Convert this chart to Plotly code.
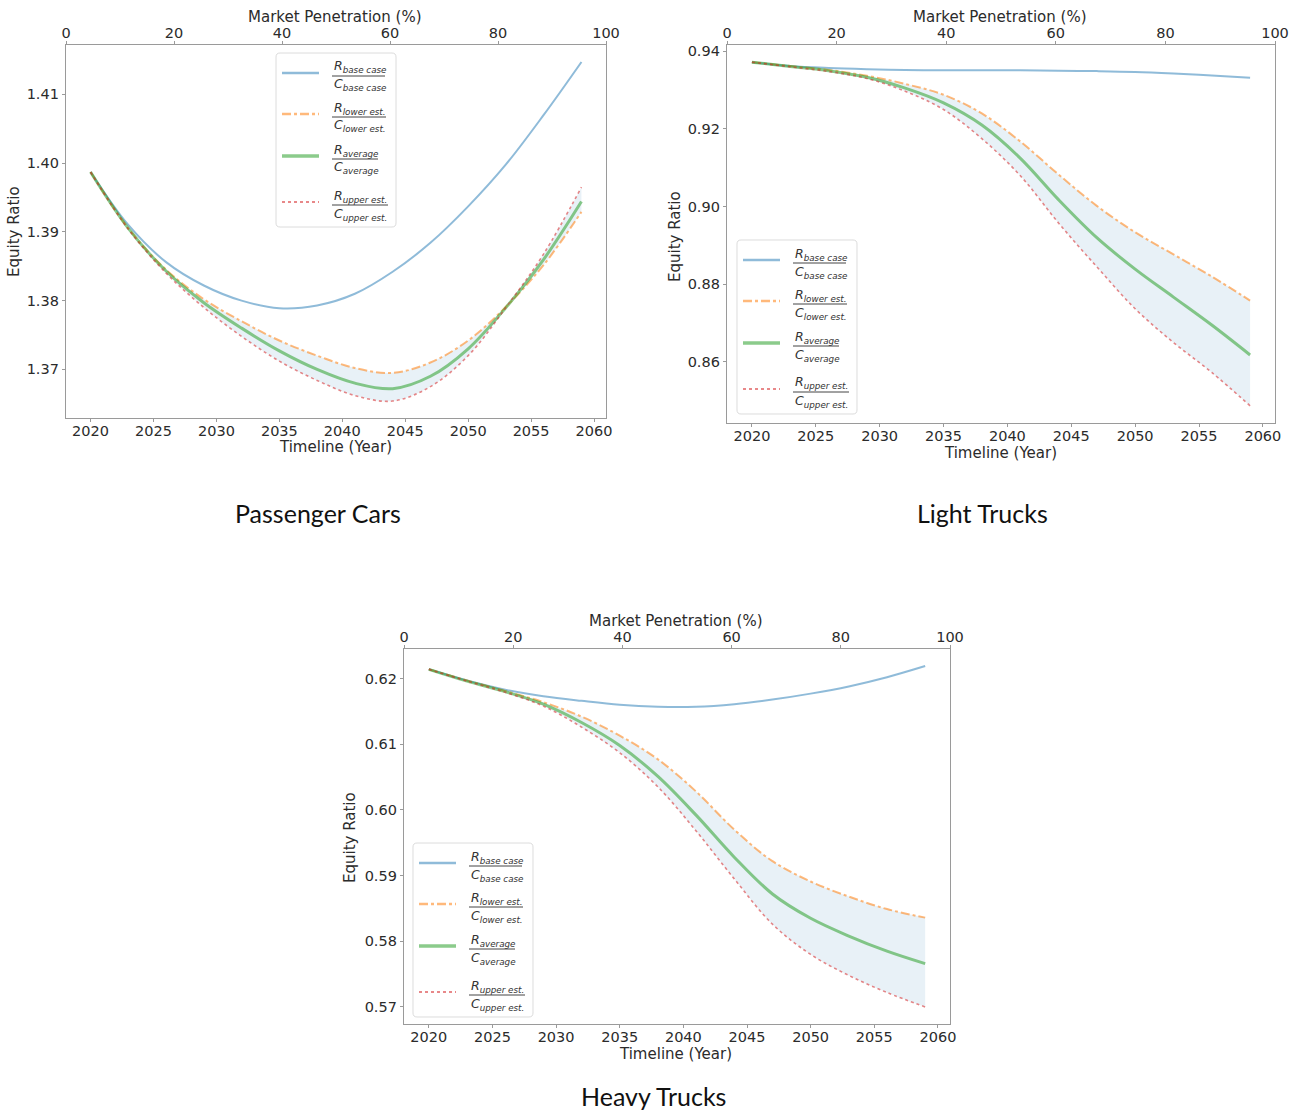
import plotly.graph_objects as go

# ---------------- data ----------------
years = [2020, 2023, 2026, 2029, 2032, 2035, 2038, 2041, 2044, 2047, 2050, 2053, 2056, 2059]
penetration_range = [0, 100]
penetration_ticks = [0, 20, 40, 60, 80, 100]

pc_base = [1.3987, 1.3910, 1.3856, 1.3822, 1.3800, 1.3789, 1.3793, 1.3810, 1.3842, 1.3884, 1.3937, 1.3998, 1.4070, 1.4147]
pc_lower = [1.3987, 1.3905, 1.3845, 1.3802, 1.3770, 1.3742, 1.3720, 1.3702, 1.3695, 1.3710, 1.3742, 1.3791, 1.3852, 1.3929]
pc_avg = [1.3987, 1.3905, 1.3843, 1.3797, 1.3760, 1.3727, 1.3700, 1.3680, 1.3672, 1.3690, 1.3730, 1.3790, 1.3860, 1.3944]
pc_upper = [1.3987, 1.3904, 1.3840, 1.3790, 1.3748, 1.3712, 1.3684, 1.3662, 1.3654, 1.3675, 1.3720, 1.3790, 1.3868, 1.3965]

lt_base = [0.9372, 0.9362, 0.9357, 0.9354, 0.9352, 0.9351, 0.9351, 0.9351, 0.9350, 0.9349, 0.9347, 0.9343, 0.9338, 0.9332]
lt_lower = [0.9372, 0.9362, 0.9352, 0.9337, 0.9316, 0.9288, 0.9240, 0.9168, 0.9083, 0.9002, 0.8934, 0.8877, 0.8820, 0.8758]
lt_avg = [0.9372, 0.9361, 0.9350, 0.9333, 0.9305, 0.9267, 0.9210, 0.9125, 0.9018, 0.8920, 0.8839, 0.8767, 0.8695, 0.8618]
lt_upper = [0.9372, 0.9360, 0.9348, 0.9330, 0.9297, 0.9250, 0.9175, 0.9080, 0.8958, 0.8845, 0.8737, 0.8650, 0.8573, 0.8487]

ht_base = [0.6214, 0.6197, 0.6183, 0.6173, 0.6166, 0.6160, 0.6157, 0.6157, 0.6161, 0.6168, 0.6177, 0.6188, 0.6202, 0.6219]
ht_lower = [0.6214, 0.6197, 0.6181, 0.6164, 0.6142, 0.6113, 0.6077, 0.6028, 0.5970, 0.5922, 0.5891, 0.5868, 0.5849, 0.5836]
ht_avg = [0.6214, 0.6196, 0.6180, 0.6161, 0.6133, 0.6098, 0.6051, 0.5992, 0.5928, 0.5872, 0.5835, 0.5808, 0.5785, 0.5766]
ht_upper = [0.6214, 0.6196, 0.6179, 0.6158, 0.6126, 0.6087, 0.6035, 0.5968, 0.5895, 0.5826, 0.5780, 0.5748, 0.5722, 0.5700]

captions = ["Passenger Cars", "Light Trucks", "Heavy Trucks"]
legend_subs = ["base case", "lower est.", "average", "upper est."]
x_title = "Timeline (Year)"
top_title = "Market Penetration (%)"
y_title = "Equity Ratio"

# ---------------- layout helpers ----------------
# body margin is removed (post_script), so the figure fills the window exactly
W, H = 1309, 1112
def PX(x):
    return x / W
def PY(y):
    return 1 - y / H

FONT = "DejaVu Sans"
TXT = "#2b2b2b"
SPINE = "#9a9a9a"
FS_TICK = 14.5
FS_TITLE = 15

styles = [
    dict(color="rgba(31,119,180,0.5)", width=2, dash="solid"),
    dict(color="rgba(255,127,14,0.55)", width=2, dash="dashdot"),
    dict(color="rgba(44,160,44,0.55)", width=3, dash="solid"),
    dict(color="rgba(214,39,40,0.55)", width=1.6, dash="dot"),
]
FILL = "rgba(31,119,180,0.1)"

panels = [
    dict(series=[pc_base, pc_lower, pc_avg, pc_upper], dom=(66, 606, 45, 418), dtick=0.01,
         legend=(276, 53), caption=(318, 513),
         top_t=(335, 17), bot_t=(335, 447), y_t=(14, 232)),
    dict(series=[lt_base, lt_lower, lt_avg, lt_upper], dom=(727, 1275, 45, 423), dtick=0.02,
         legend=(737, 240), caption=(983, 513),
         top_t=(1000, 17), bot_t=(1000, 453), y_t=(675, 237)),
    dict(series=[ht_base, ht_lower, ht_avg, ht_upper], dom=(404, 950, 649, 1024), dtick=0.01,
         legend=(413, 843), caption=(653, 1096),
         top_t=(676, 621), bot_t=(675, 1054), y_t=(350, 838)),
]

def rounded_rect(x0, y0, x1, y1, r):
    # pixel coords -> paper coords path with rounded corners
    def p(x, y):
        return f"{PX(x):.6f},{PY(y):.6f}"
    return (f"M {p(x0 + r, y0)} L {p(x1 - r, y0)} Q {p(x1, y0)} {p(x1, y0 + r)} "
            f"L {p(x1, y1 - r)} Q {p(x1, y1)} {p(x1 - r, y1)} "
            f"L {p(x0 + r, y1)} Q {p(x0, y1)} {p(x0, y1 - r)} "
            f"L {p(x0, y0 + r)} Q {p(x0, y0)} {p(x0 + r, y0)} Z")

def text_ann(x, y, text, size=FS_TITLE, angle=0, family=FONT, color=TXT):
    return dict(xref="paper", yref="paper", x=PX(x), y=PY(y), xanchor="center", yanchor="middle",
                showarrow=False, text=text, textangle=angle,
                font=dict(family=family, size=size, color=color))

fig = go.Figure()
layout = dict(width=W, height=H, margin=dict(l=0, r=0, t=0, b=0),
              paper_bgcolor="white", plot_bgcolor="white", showlegend=False,
              template="none", font=dict(family=FONT, size=FS_TICK, color=TXT))
shapes = []
annotations = []

xspan = years[-1] - years[0]
xrange_ = [years[0] - 0.05 * xspan, years[-1] + 0.05 * xspan]

for i, p in enumerate(panels):
    bx_i = 2 * i + 1
    tx_i = 2 * i + 2
    y_i = i + 1
    xa = "x" if bx_i == 1 else f"x{bx_i}"
    xt = f"x{tx_i}"
    ya = "y" if y_i == 1 else f"y{y_i}"
    xkey = "xaxis" if bx_i == 1 else f"xaxis{bx_i}"
    xtkey = f"xaxis{tx_i}"
    ykey = "yaxis" if y_i == 1 else f"yaxis{y_i}"

    base, lower, avg, upper = p["series"]
    allv = base + lower + avg + upper
    lo, hi = min(allv), max(allv)
    m = 0.05 * (hi - lo)

    # shaded band between upper and lower estimates
    fig.add_trace(go.Scatter(x=years, y=upper, mode="lines", line=dict(width=0, shape="spline"),
                             xaxis=xa, yaxis=ya, hoverinfo="skip"))
    fig.add_trace(go.Scatter(x=years, y=lower, mode="lines", line=dict(width=0, shape="spline"),
                             fill="tonexty", fillcolor=FILL, xaxis=xa, yaxis=ya, hoverinfo="skip"))
    for s, st in zip(p["series"], styles):
        fig.add_trace(go.Scatter(x=years, y=s, mode="lines",
                                 line=dict(color=st["color"], width=st["width"], dash=st["dash"], shape="spline"),
                                 xaxis=xa, yaxis=ya))
    # invisible trace to anchor the top (market penetration) axis
    fig.add_trace(go.Scatter(x=penetration_range, y=[avg[0], avg[0]], mode="lines",
                             line=dict(width=0), opacity=0, xaxis=xt, yaxis=ya, hoverinfo="skip"))

    x0, x1, y0, y1 = p["dom"]
    layout[xkey] = dict(domain=[PX(x0), PX(x1)], anchor=ya, range=xrange_, tick0=2020, dtick=5,
                        showline=True, linecolor=SPINE, linewidth=1.3, mirror=True,
                        ticks="outside", ticklen=3, tickcolor=SPINE, showgrid=False, zeroline=False,
                        ticklabelstandoff=-4, tickfont=dict(size=FS_TICK, color=TXT))
    layout[xtkey] = dict(overlaying=xa, anchor=ya, side="top", range=penetration_range,
                         tickvals=penetration_ticks, showline=False, ticks="outside", ticklen=3,
                         tickcolor=SPINE, showgrid=False, zeroline=False,
                         ticklabelstandoff=-3, tickfont=dict(size=FS_TICK, color=TXT))
    layout[ykey] = dict(domain=[PY(y1), PY(y0)], anchor=xa, range=[lo - m, hi + m],
                        tick0=0, dtick=p["dtick"], tickformat=".2f",
                        showline=True, linecolor=SPINE, linewidth=1.3, mirror=True,
                        ticks="outside", ticklen=3, tickcolor=SPINE, showgrid=False, zeroline=False,
                        tickfont=dict(size=FS_TICK, color=TXT))

    # axis titles placed as text
    annotations.append(text_ann(*p["top_t"], top_title))
    annotations.append(text_ann(*p["bot_t"], x_title))
    annotations.append(text_ann(*p["y_t"], y_title, angle=-90))

    # custom legend with fraction labels
    bx, by = p["legend"]
    shapes.append(dict(type="path", xref="paper", yref="paper",
                       path=rounded_rect(bx, by, bx + 120, by + 174, 4),
                       line=dict(color="#dcdcdc", width=1), fillcolor="rgba(255,255,255,0.85)", layer="above"))
    offs = [20, 61, 103, 149]
    barw = [53, 54, 46, 56]
    for k, (st, sub) in enumerate(zip(styles, legend_subs)):
        sy = by + offs[k]
        shapes.append(dict(type="line", xref="paper", yref="paper",
                           x0=PX(bx + 6), x1=PX(bx + 43), y0=PY(sy), y1=PY(sy),
                           line=dict(color=st["color"], width=st["width"] + 0.5, dash=st["dash"]), layer="above"))
        fx = bx + 56
        shapes.append(dict(type="line", xref="paper", yref="paper",
                           x0=PX(fx), x1=PX(fx + barw[k]), y0=PY(sy + 3), y1=PY(sy + 3),
                           line=dict(color="#444", width=1), layer="above"))
        annotations.append(dict(xref="paper", yref="paper", x=PX(fx), y=PY(sy - 6),
                                xanchor="left", yanchor="middle", showarrow=False,
                                text=f"<i>R</i><sub><i>{sub}</i></sub>",
                                font=dict(family=FONT, size=12.5, color="#333")))
        annotations.append(dict(xref="paper", yref="paper", x=PX(fx), y=PY(sy + 12),
                                xanchor="left", yanchor="middle", showarrow=False,
                                text=f"<i>C</i><sub><i>{sub}</i></sub>",
                                font=dict(family=FONT, size=12.5, color="#333")))

    annotations.append(text_ann(*p["caption"], captions[i], size=25, family="Lato", color="#111"))

layout["shapes"] = shapes
layout["annotations"] = annotations
fig.update_layout(**layout)
fig.write_html("out.html", config={"displayModeBar": False},
               post_script="document.body.style.margin='0px';document.body.style.overflow='hidden';")
